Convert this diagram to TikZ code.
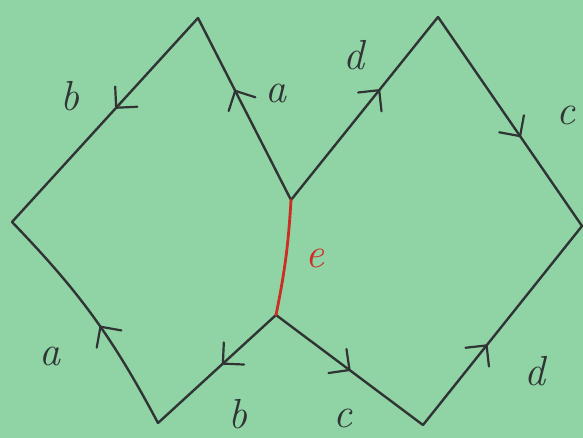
\documentclass[tikz,border=0pt]{standalone}
\usetikzlibrary{decorations.markings}
\definecolor{paper}{RGB}{144,212,166}
\definecolor{ink}{RGB}{48,52,52}
\definecolor{redink}{RGB}{205,45,35}
\begin{document}
\begin{tikzpicture}[x=1pt,y=-1pt,
  edge/.style={draw=ink,line width=2.4pt,line join=round,line cap=round},
  redge/.style={draw=redink,line width=2.8pt,line cap=round},
  midarrow/.style={postaction={decorate},decoration={markings,
     mark=at position #1 with {\draw[ink,line width=2.2pt,line cap=round,line join=round]
        (-15pt,-15pt) -- (0pt,0pt) -- (-15pt,15pt);}}},
  lab/.style={text=ink,font=\fontsize{42}{44}\selectfont\itshape,inner sep=0pt},
  rlab/.style={lab,text=redink}]
\fill[paper] (0,0) rectangle (583,438);
\useasboundingbox (0,0) rectangle (583,438);
% vertices
\coordinate (P1) at (198,18);
\coordinate (P2) at (438,17);
\coordinate (L) at (12,222);
\coordinate (R) at (582,226);
\coordinate (E1) at (291,200);
\coordinate (E2) at (276,315);
\coordinate (B1) at (158,423);
\coordinate (B2) at (423,425);
% edges
\draw[edge,midarrow=0.44] (P1) -- (L);
\draw[edge,midarrow=0.6] (E1) -- (P1);
\draw[edge,midarrow=0.6] (E1) -- (P2);
\draw[edge,midarrow=0.57] (P2) -- (R);
\draw[edge,midarrow=0.45] (B1) to[bend right=8] (L);
\draw[edge,midarrow=0.45] (E2) -- (B1);
\draw[edge,midarrow=0.5] (E2) -- (B2);
\draw[edge,midarrow=0.4] (B2) -- (R);
\draw[redge] (E1) to[bend left=4] (E2);
% labels
\node[lab] (lb1) at (70,96) {b};
\node[lab] (la1) at (276,93) {a};
\node[lab] (ld1) at (354,55) {d};
\node[lab] (lc1) at (566,115) {c};
\node[lab] (la2) at (50,356) {a};
\node[lab] (lb2) at (238,414) {b};
\node[lab] (lc2) at (343,418) {c};
\node[lab] (ld2) at (535,371) {d};
\node[rlab] (le) at (315,258) {e};
\end{tikzpicture}
\end{document}
